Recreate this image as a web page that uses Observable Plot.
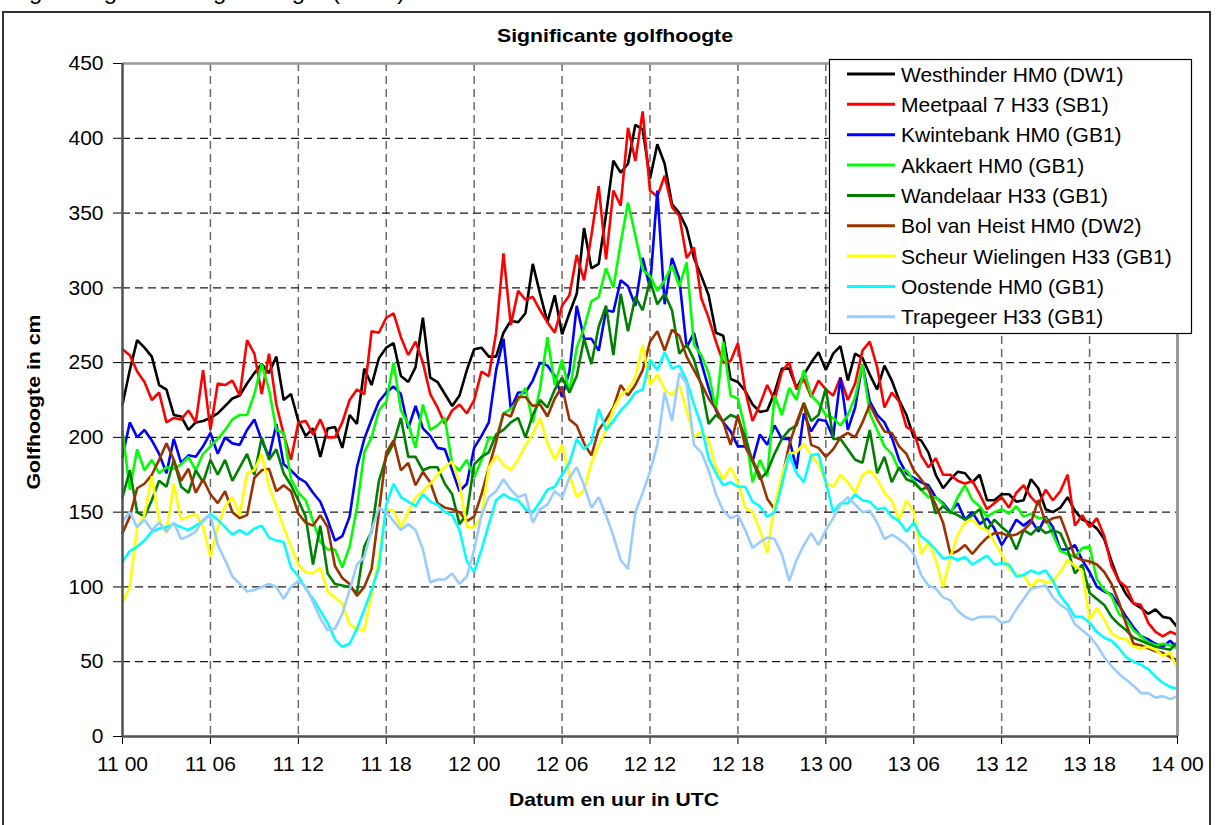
<!DOCTYPE html>
<html>
<head>
<meta charset="utf-8">
<script src="https://cdn.jsdelivr.net/npm/d3@7"></script>
<script src="https://cdn.jsdelivr.net/npm/@observablehq/plot@0.6"></script>
<style>
  html, body { margin: 0; padding: 0; background: #fff; }
  body { width: 1216px; height: 825px; overflow: hidden; position: relative; font-family: Arial, "Liberation Sans", sans-serif; }
  #chart svg { position: absolute; left: 0; top: 0; overflow: visible; }
</style>
</head>
<body>
<div id="chart"></div>
<script>
// ---- data: half-hourly values (cm), from 11 00 to 14 00 UTC ----
const stepHours = 0.5;

const seriesNames = [
  "Westhinder HM0 (DW1)", "Meetpaal 7 H33 (SB1)", "Kwintebank HM0 (GB1)",
  "Akkaert HM0 (GB1)", "Wandelaar H33 (GB1)", "Bol van Heist HM0 (DW2)",
  "Scheur Wielingen H33 (GB1)", "Oostende HM0 (GB1)", "Trapegeer H33 (GB1)"
];
const seriesColors = ["#000000", "#ff0000", "#0000ff", "#00ff00", "#008000", "#993300", "#ffff00", "#00ffff", "#99ccff"];

const westhinder = [
  222,245,265,260,254,235,232,215,214,205,
  210,211,213,216,221,226,228,236,243,249,
  243,254,225,229,211,201,206,187,206,207,
  193,215,209,246,235,253,260,263,241,237,
  247,280,240,237,229,221,228,245,259,260,
  254,254,270,278,277,283,316,296,277,295,
  269,283,296,340,313,316,349,385,377,383,
  409,406,373,396,383,356,350,340,320,308,
  295,270,268,239,237,231,222,217,218,230,
  246,246,233,242,250,257,245,256,261,238,
  256,253,242,232,248,238,225,215,200,198,
  190,175,166,172,177,176,170,175,158,158,
  162,162,157,158,172,166,152,150,153,160,
  151,145,143,139,132,117,104,95,89,86,
  82,85,80,79,73
];
const meetpaal7 = [
  259,255,244,237,225,230,210,213,212,218,
  210,245,205,236,235,238,228,265,256,229,
  256,222,202,185,210,211,202,212,200,200,
  210,225,232,229,271,270,280,283,267,255,
  264,250,229,220,209,218,222,216,225,244,
  241,270,323,275,298,292,294,285,277,270,
  288,295,322,305,335,368,319,365,355,407,
  385,418,365,361,375,354,348,320,327,293,
  280,264,250,251,263,231,211,222,235,225,
  244,250,232,239,227,238,232,228,240,225,
  236,258,264,247,220,230,224,207,204,188,
  180,186,175,175,171,169,171,162,152,156,
  160,153,163,168,160,155,165,158,164,175,
  141,148,140,146,134,114,104,100,89,88,
  76,70,67,70,68
];
const kwintebank = [
  187,210,200,205,198,189,176,199,183,188,
  187,194,203,189,200,196,195,205,212,198,
  187,209,182,178,173,170,163,157,145,131,
  134,147,180,199,212,224,230,234,229,206,
  221,206,201,193,192,178,164,169,193,201,
  210,245,266,219,230,230,238,250,248,241,
  227,244,288,266,266,258,285,284,305,301,
  288,320,300,365,289,320,306,260,270,250,
  233,218,210,204,194,194,184,202,195,208,
  199,199,179,216,204,212,211,200,240,205,
  220,249,224,215,210,200,185,176,173,170,
  168,160,156,150,156,145,150,142,146,139,
  128,136,145,141,145,137,147,140,125,125,
  128,118,110,100,97,95,88,80,73,67,
  65,62,60,64,59
];
const akkaert = [
  204,165,192,178,185,176,180,179,182,187,
  178,189,194,199,205,212,215,215,229,249,
  232,205,203,172,163,158,144,130,125,125,
  113,127,153,190,200,218,224,250,218,209,
  193,222,205,208,213,182,178,185,173,185,
  200,199,216,219,225,233,210,233,267,235,
  252,230,260,273,291,294,313,300,330,357,
  335,312,308,298,305,315,301,317,262,255,
  243,218,264,228,226,205,170,185,174,228,
  215,233,225,245,228,223,215,213,208,215,
  227,249,216,205,194,189,178,178,171,165,
  160,160,155,149,160,168,158,154,147,150,
  152,149,154,147,149,146,146,135,124,122,
  120,126,127,105,98,94,82,78,71,67,
  63,61,62,61,59
];
const wandelaar = [
  160,178,150,147,158,171,167,185,167,163,
  178,170,185,175,185,171,180,189,175,200,
  185,192,176,168,158,147,115,141,109,102,
  101,100,96,127,137,171,187,196,213,187,
  187,178,180,180,169,162,142,149,182,187,
  190,202,205,210,213,200,215,225,220,232,
  240,230,241,266,249,274,288,255,296,271,
  294,285,305,289,296,285,256,262,252,235,
  209,215,211,215,213,200,184,172,177,189,
  199,205,208,223,211,215,233,199,199,192,
  185,183,205,176,187,170,180,172,170,165,
  167,149,154,150,148,145,148,152,138,145,
  140,136,125,138,135,140,136,138,136,125,
  109,115,96,92,88,80,75,71,66,64,
  62,60,59,58,63
];
const bolVanHeist = [
  136,147,166,169,175,185,196,185,171,179,
  163,172,162,156,164,150,146,148,173,178,
  179,164,168,164,149,143,141,148,140,114,
  106,102,94,100,112,150,190,198,178,183,
  168,177,170,156,153,152,150,144,147,162,
  180,197,216,214,227,227,221,222,214,226,
  234,212,208,196,188,205,212,220,235,228,
  235,245,264,271,258,272,268,254,245,236,
  226,219,210,195,215,194,185,175,159,152,
  172,195,210,223,195,193,187,192,200,203,
  200,210,222,212,204,203,194,189,178,172,
  165,155,143,122,124,128,122,128,133,136,
  136,134,135,138,143,158,143,146,147,134,
  120,118,117,115,110,102,90,75,62,61,
  59,57,56,53,51
];
const scheurWielingen = [
  90,100,140,148,174,145,136,169,145,147,
  149,140,120,140,154,160,148,176,178,189,
  167,154,140,127,115,110,109,113,97,93,
  89,75,72,71,95,120,152,151,140,150,
  160,164,169,175,180,184,169,140,140,147,
  180,188,182,178,185,195,202,213,196,185,
  195,175,160,165,183,195,205,219,228,232,
  240,262,235,242,232,228,235,218,200,204,
  198,180,172,180,170,153,150,138,123,155,
  175,189,190,196,188,182,170,167,175,170,
  163,175,178,172,163,158,145,158,150,122,
  130,118,100,120,135,143,145,140,138,130,
  122,112,108,108,100,105,103,104,110,118,
  114,111,78,86,78,69,66,65,60,59,
  60,58,54,56,45
];
const oostende = [
  117,124,127,131,137,139,140,142,140,138,
  141,144,149,145,140,135,138,135,139,141,
  133,131,130,113,107,99,92,84,76,65,
  60,62,72,85,98,113,155,169,160,157,
  154,162,157,155,150,148,138,117,110,125,
  142,158,162,159,158,152,150,157,165,167,
  175,183,199,192,197,219,205,211,218,223,
  230,232,252,245,257,246,248,238,222,208,
  186,176,168,170,167,167,157,154,147,150,
  168,189,176,170,188,189,170,150,156,156,
  162,158,157,152,153,147,144,137,143,134,
  130,125,119,120,118,120,115,118,121,115,
  116,115,107,108,111,109,111,104,94,88,
  80,80,76,70,66,64,59,53,50,48,
  45,40,36,33,32
];
const trapegeer = [
  144,150,140,145,138,143,137,143,132,134,
  137,145,148,128,118,107,102,97,98,100,
  102,100,92,100,104,100,90,79,71,72,
  82,98,115,120,138,153,150,144,138,142,
  138,125,103,105,105,109,102,107,125,148,
  160,164,172,165,160,162,143,152,155,164,
  160,173,180,168,153,160,148,134,118,112,
  150,163,177,195,230,211,243,236,195,190,
  178,162,151,146,148,138,126,130,133,132,
  122,104,118,128,136,128,138,146,155,160,
  155,150,151,143,132,135,132,128,122,108,
  101,99,93,91,84,80,78,80,80,80,
  76,77,85,92,99,100,101,93,88,85,
  75,71,67,61,53,47,42,38,34,29,
  29,26,27,25,27
];

const xTickHours = [0, 6, 12, 18, 24, 30, 36, 42, 48, 54, 60, 66, 72];
const xTickLabels = ["11 00", "11 06", "11 12", "11 18", "12 00", "12 06", "12 12", "12 18", "13 00", "13 06", "13 12", "13 18", "14 00"];
const yTicks = [0, 50, 100, 150, 200, 250, 300, 350, 400, 450];

const chartTitle = "Significante golfhoogte";
const xTitle = "Datum en uur in UTC";
const yTitle = "Golfhoogte in cm";
const figureCaption = "Fig. 1: Significante golfhoogte (in cm)";

// ---- build tidy table ----
const allSeries = [westhinder, meetpaal7, kwintebank, akkaert, wandelaar, bolVanHeist, scheurWielingen, oostende, trapegeer];
const rows = [];
allSeries.forEach((vals, si) => vals.forEach((v, i) => rows.push({ series: seriesNames[si], t: i * stepHours, v })));

const W = 1216, H = 825;
const mL = 122, mR = 39, mT = 63, mB = 89;

const plot = Plot.plot({
  width: W, height: H,
  marginLeft: mL, marginRight: mR, marginTop: mT, marginBottom: mB,
  style: { fontFamily: "Arial, 'Liberation Sans', sans-serif", fontSize: "21px", color: "#000", background: "transparent", overflow: "visible" },
  x: { domain: [0, 72], ticks: xTickHours, tickFormat: d => xTickLabels[xTickHours.indexOf(d)], tickSize: 8, tickPadding: 12, label: null },
  y: { domain: [0, 450], ticks: yTicks, tickSize: 9, tickPadding: 10, label: null },
  color: { domain: seriesNames, range: seriesColors },
  marks: [
    Plot.gridX(xTickHours.slice(1, -1), { stroke: "#6b6b6b", strokeOpacity: 1, strokeWidth: 1.5, strokeDasharray: "8,5" }),
    Plot.gridY(yTicks.slice(1, -1), { stroke: "#1a1a1a", strokeOpacity: 1, strokeWidth: 1.2, strokeDasharray: "8,5" }),
    Plot.line(rows, { x: "t", y: "v", z: "series", stroke: "series", strokeWidth: 2.6, strokeLinejoin: "miter" }),
    Plot.ruleY([450], { stroke: "#9a9a9a", strokeWidth: 2.5 }),
    Plot.ruleX([72], { stroke: "#9a9a9a", strokeWidth: 3 }),
    Plot.ruleX([0], { stroke: "#505050", strokeWidth: 2.5 }),
    Plot.ruleY([0], { stroke: "#505050", strokeWidth: 2.5 })
  ]
});

document.getElementById("chart").appendChild(plot);
const svg = d3.select(plot);

// outer chart border
svg.append("rect")
  .attr("x", 3).attr("y", 12).attr("width", 1207).attr("height", 840)
  .attr("fill", "none").attr("stroke", "#333").attr("stroke-width", 2);

// clipped caption above the chart (only descenders visible, as in the reference)
svg.append("text")
  .attr("x", 9).attr("y", -1)
  .attr("text-anchor", "start")
  .attr("font-size", 24).attr("fill", "#000")
  .text(figureCaption);

// chart title
svg.append("text")
  .attr("x", 615).attr("y", 42)
  .attr("text-anchor", "middle").attr("font-weight", "bold").attr("font-size", 19)
  .attr("textLength", 236).attr("lengthAdjust", "spacingAndGlyphs")
  .text(chartTitle);

// x axis title
svg.append("text")
  .attr("x", 614).attr("y", 806)
  .attr("text-anchor", "middle").attr("font-weight", "bold").attr("font-size", 19)
  .attr("textLength", 210).attr("lengthAdjust", "spacingAndGlyphs")
  .text(xTitle);

// y axis title
svg.append("text")
  .attr("transform", "translate(40,402) rotate(-90)")
  .attr("text-anchor", "middle").attr("font-weight", "bold").attr("font-size", 19)
  .attr("textLength", 175).attr("lengthAdjust", "spacingAndGlyphs")
  .text(yTitle);

// legend
const lg = svg.append("g").attr("text-anchor", "start");
lg.append("rect")
  .attr("x", 829.5).attr("y", 59.5).attr("width", 362).attr("height", 274)
  .attr("fill", "#fff").attr("stroke", "#000").attr("stroke-width", 1.2);
seriesNames.forEach((name, i) => {
  const cy = 74 + i * 30.35;
  lg.append("line")
    .attr("x1", 847).attr("x2", 895).attr("y1", cy).attr("y2", cy)
    .attr("stroke", seriesColors[i]).attr("stroke-width", 3);
  lg.append("text")
    .attr("x", 901).attr("y", cy + 7.5)
    .attr("text-anchor", "start")
    .attr("font-size", 21).attr("fill", "#000")
    .text(name);
});
</script>
</body>
</html>
